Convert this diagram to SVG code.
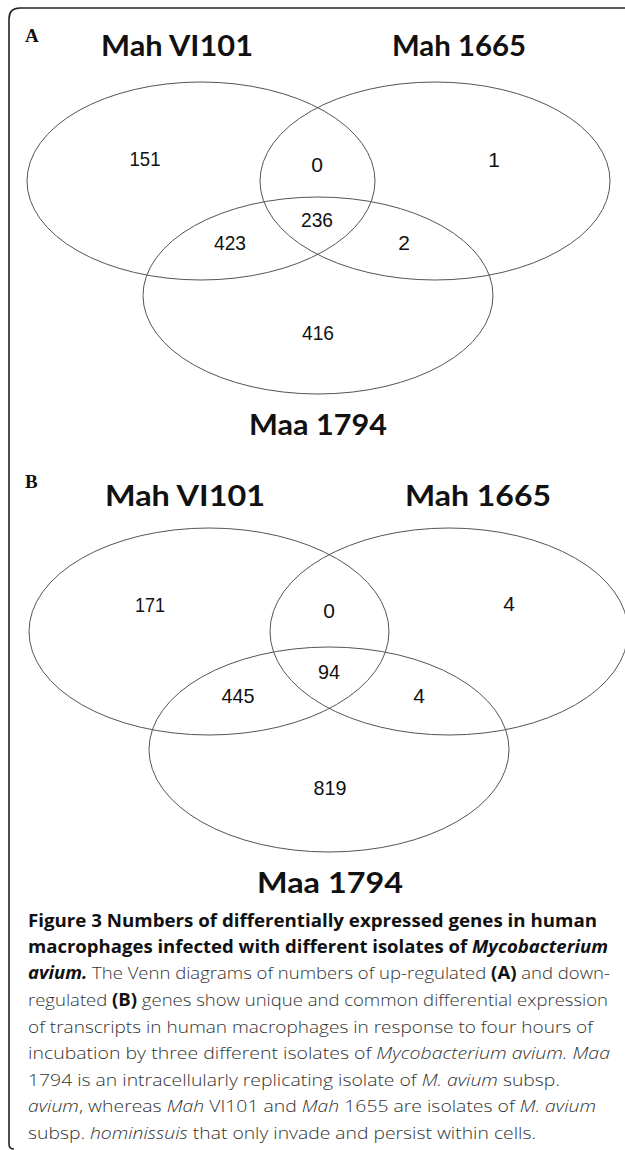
<svg xmlns="http://www.w3.org/2000/svg" width="625" height="1150" viewBox="0 0 625 1150">
<style>
.frame{fill:none;stroke:#222;stroke-width:1.6}
.ell{fill:none;stroke:#555;stroke-width:1}
.set{font-family:Lato,"Open Sans","Liberation Sans",sans-serif;font-weight:700;font-size:29px;fill:#111;text-anchor:middle}
.num{font-family:"Liberation Sans",Arial,sans-serif;font-size:21px;fill:#111;text-anchor:middle}
.pl{font-family:"Liberation Serif","Times New Roman",serif;font-weight:700;font-size:19px;fill:#111}
.cap{font-family:"Open Sans","Liberation Sans",sans-serif;font-weight:300;font-size:17px;fill:#333}
.b{font-weight:700;fill:#111}
.i{font-style:italic}
</style>
<rect width="625" height="1150" fill="#fff"/>
<path class="frame" d="M14,1149 Q9,1149 9,1144 V19 Q9,8 20,8 H626"/>

<g id="panelA">
  <text class="pl" x="25" y="42">A</text>
  <g id="A-set-VI101">
    <ellipse class="ell" cx="201" cy="181" rx="174" ry="99"/>
    <text class="set" x="177" y="56" textLength="152" lengthAdjust="spacingAndGlyphs">Mah VI101</text>
  </g>
  <g id="A-set-1665">
    <ellipse class="ell" cx="435" cy="181" rx="175" ry="99"/>
    <text class="set" x="459" y="56" textLength="134" lengthAdjust="spacingAndGlyphs">Mah 1665</text>
  </g>
  <g id="A-set-1794">
    <ellipse class="ell" cx="318" cy="295.5" rx="175" ry="98.5"/>
    <text class="set" x="318" y="435" textLength="138" lengthAdjust="spacingAndGlyphs">Maa 1794</text>
  </g>
  <g id="A-counts">
    <text class="num" x="145" y="166" textLength="31" lengthAdjust="spacingAndGlyphs">151</text>
    <text class="num" x="317" y="172">0</text>
    <text class="num" x="494" y="167">1</text>
    <text class="num" x="317" y="227" textLength="32" lengthAdjust="spacingAndGlyphs">236</text>
    <text class="num" x="230" y="250" textLength="32" lengthAdjust="spacingAndGlyphs">423</text>
    <text class="num" x="404" y="250">2</text>
    <text class="num" x="318" y="340" textLength="32" lengthAdjust="spacingAndGlyphs">416</text>
  </g>
</g>

<g id="panelB">
  <text class="pl" x="25" y="488">B</text>
  <g id="B-set-VI101">
    <ellipse class="ell" cx="209" cy="631.5" rx="180" ry="103.5"/>
    <text class="set" x="185" y="506" textLength="160" lengthAdjust="spacingAndGlyphs">Mah VI101</text>
  </g>
  <g id="B-set-1665">
    <ellipse class="ell" cx="449" cy="631.5" rx="179" ry="103.5"/>
    <text class="set" x="478" y="506" textLength="146" lengthAdjust="spacingAndGlyphs">Mah 1665</text>
  </g>
  <g id="B-set-1794">
    <ellipse class="ell" cx="329" cy="749.5" rx="180" ry="102.5"/>
    <text class="set" x="330" y="893" textLength="146" lengthAdjust="spacingAndGlyphs">Maa 1794</text>
  </g>
  <g id="B-counts">
    <text class="num" x="150" y="612" textLength="30" lengthAdjust="spacingAndGlyphs">171</text>
    <text class="num" x="329" y="618">0</text>
    <text class="num" x="509" y="611">4</text>
    <text class="num" x="329" y="679" textLength="22" lengthAdjust="spacingAndGlyphs">94</text>
    <text class="num" x="238" y="703" textLength="33" lengthAdjust="spacingAndGlyphs">445</text>
    <text class="num" x="419" y="703">4</text>
    <text class="num" x="330" y="795" textLength="33" lengthAdjust="spacingAndGlyphs">819</text>
  </g>
</g>

<g id="caption">
  <text class="cap b" x="28" y="927" textLength="569" lengthAdjust="spacingAndGlyphs">Figure 3 Numbers of differentially expressed genes in human</text>
  <text class="cap b" x="28" y="953" textLength="580" lengthAdjust="spacingAndGlyphs">macrophages infected with different isolates of <tspan class="i">Mycobacterium</tspan></text>
  <text class="cap" x="28" y="979" textLength="582" lengthAdjust="spacingAndGlyphs"><tspan class="b i">avium.</tspan> The Venn diagrams of numbers of up-regulated <tspan class="b">(A)</tspan> and down-</text>
  <text class="cap" x="28" y="1006" textLength="580" lengthAdjust="spacingAndGlyphs">regulated <tspan class="b">(B)</tspan> genes show unique and common differential expression</text>
  <text class="cap" x="28" y="1033" textLength="565" lengthAdjust="spacingAndGlyphs">of transcripts in human macrophages in response to four hours of</text>
  <text class="cap" x="28" y="1059" textLength="582" lengthAdjust="spacingAndGlyphs">incubation by three different isolates of <tspan class="i">Mycobacterium avium. Maa</tspan></text>
  <text class="cap" x="28" y="1086" textLength="532" lengthAdjust="spacingAndGlyphs">1794 is an intracellularly replicating isolate of <tspan class="i">M. avium</tspan> subsp.</text>
  <text class="cap" x="28" y="1112" textLength="568" lengthAdjust="spacingAndGlyphs"><tspan class="i">avium</tspan>, whereas <tspan class="i">Mah</tspan> VI101 and <tspan class="i">Mah</tspan> 1655 are isolates of <tspan class="i">M. avium</tspan></text>
  <text class="cap" x="28" y="1139" textLength="508" lengthAdjust="spacingAndGlyphs">subsp. <tspan class="i">hominissuis</tspan> that only invade and persist within cells.</text>
</g>
</svg>
